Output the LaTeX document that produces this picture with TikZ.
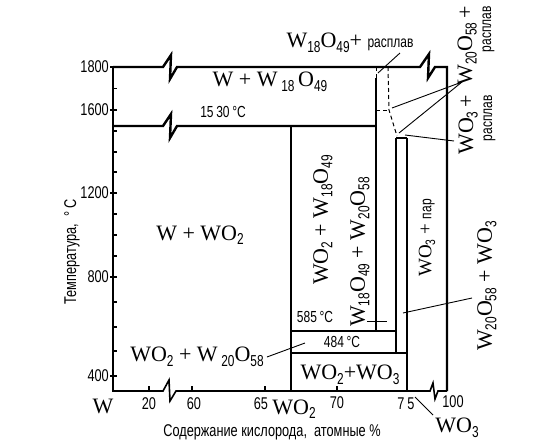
\documentclass[tikz,border=0pt]{standalone}
\usepackage{fontspec}
\usepackage{graphicx}
\setmainfont{Liberation Serif}
\newfontfamily\cnd[FakeStretch=0.75]{Liberation Sans}
\newcommand\sbs[1]{\raisebox{-0.45ex}{\scalebox{0.72}{\cnd #1}}}
\tikzset{
  heavy/.style={line width=2.4pt},
  axisl/.style={line width=1.6pt},
  inner/.style={line width=1.3pt},
  dsh/.style={line width=1pt, dash pattern=on 4pt off 3pt},
  lead/.style={line width=0.9pt},
  frm/.style={font=\fontsize{22}{24}\selectfont, inner sep=0pt},
  frms/.style={font=\fontsize{19}{21}\selectfont, inner sep=0pt},
  sml/.style={font=\cnd\fontsize{16}{18}\selectfont, inner sep=0pt},
  tlab/.style={font=\cnd\fontsize{17}{19}\selectfont, inner sep=0pt},
}
\newcommand\rasp{{\cnd\fontsize{16}{18}\selectfont расплав}}
\begin{document}
\begin{tikzpicture}[x=1pt,y=-1pt]
\useasboundingbox (0,0) rectangle (550,445);
% frame lines
\draw[heavy] (113,67) -- (163,67) -- (171,55) -- (170,79) -- (177,67) -- (420,67) -- (429,54) -- (428,78) -- (435,67) -- (447,67) -- (447,391);
\draw[heavy] (113,126) -- (163,126) -- (171,114) -- (170,138) -- (177,126) -- (376,126);
\draw[axisl] (113,67) -- (113,391) -- (163,391) -- (169,380) -- (170,401) -- (176,391) -- (430,391) -- (433,383) -- (435,399) -- (438,391) -- (447,391);
% y ticks
\foreach \yy in {88.5,131,152,172,214,235,256,302,327,351}
  \draw[inner] (113,\yy) -- (117,\yy);
\foreach \yy in {67,110,193,277,376}
  \draw[inner] (110,\yy) -- (117,\yy);
% x ticks
\foreach \xx in {149,192,265,337}
  \draw[inner] (\xx,391) -- (\xx,386);
% inner phase lines
\draw[inner] (376,78) -- (376,331);
\draw[dsh] (376,67) -- (376,78);
\draw[inner] (291,126) -- (291,391);
\draw[inner] (396,138) -- (396,353);
\draw[inner] (407,138) -- (407,391);
\draw[inner] (396,138) -- (407,138);
\draw[inner] (291,331) -- (396,331);
\draw[inner] (291,353) -- (407,353);
\draw[lead] (367,321) -- (387,321);
\draw[dsh] (388,67) -- (389,110) -- (397,136);
\draw[dsh] (376,110) -- (388,110);
% labels
\node[tlab, anchor=east] (t1800) at (109,67) {1800};
\node[tlab, anchor=east] (t1600) at (109,110) {1600};
\node[tlab, anchor=east] (t1200) at (109,193) {1200};
\node[tlab, anchor=east] (t800) at (109,277) {800};
\node[tlab, anchor=east] (t400) at (109,376) {400};
\node[tlab, rotate=90] (ylab) at (72,252) {Температура, \ °\,C};
\node[frm] (xW) at (103,406) {W};
\node[tlab] (x20) at (149,404) {20};
\node[tlab] (x60) at (194,404) {60};
\node[tlab] (x65) at (261,404) {65};
\node[frm] (xWO2) at (294,409) {WO\sbs{2}};
\node[tlab] (x70) at (337,403) {70};
\node[tlab] (x75) at (406,404) {7\,5};
\node[tlab] (x100) at (453,402) {100};
\node[frm] (xWO3) at (457,428) {WO\sbs{3}};
\node[tlab] (xlab) at (272,432) {Содержание кислорода, \ атомные \%};
\node[frm] (r1) at (270,82) {W + W\,\sbs{18}\,O\sbs{49}};
\node[frm] (r2) at (200,235) {W + WO\sbs{2}};
\node[frm] (r3) at (197,357) {WO\sbs{2} + W\,\sbs{20}O\sbs{58}};
\node[frm] (r4) at (350,375) {WO\sbs{2}+WO\sbs{3}};
\node[frm, rotate=90] (r5) at (323,220) {WO\sbs{2} + W\sbs{18}O\sbs{49}};
\node[frm, rotate=90] (r6) at (360,252) {W\sbs{18}O\sbs{49} + W\sbs{20}O\sbs{58}};
\node[frms, rotate=90] (r7) at (427,238) {WO\sbs{3} + {\cnd\fontsize{16}{18}\selectfont пар}};
\node[frm, rotate=90] (r8) at (487,286) {W\sbs{20}O\sbs{58} + WO\sbs{3}};
\node[frm] (r9) at (350,43) {W\sbs{18}O\sbs{49}+ \rasp};
\node[frm, rotate=90, align=right] (r10) at (476,46) {W\sbs{20}O\sbs{58}\,+\\[-5pt]\rasp};
\node[frm, rotate=90, align=right] (r11) at (477,125) {WO\sbs{3}\,+\\[-5pt]\rasp};
\node[sml] (c1530) at (223,112) {15\,30\,°C};
\node[sml] (c585) at (315,317) {585\,°C};
\node[sml] (c484) at (342,342) {484\,°C};
% leaders
\coordinate (a1) at (400,53);  \coordinate (b1) at (378,73);
\coordinate (a2) at (462,82);  \coordinate (b2) at (392,108);
\coordinate (b3) at (399,133);
\coordinate (a4) at (454,141); \coordinate (b4) at (405,135);
\coordinate (a5) at (472,298); \coordinate (b5) at (403,313);
\coordinate (a6) at (267,357); \coordinate (b6) at (305,343);
\coordinate (a7) at (415,397); \coordinate (b7) at (433,415);
\draw[lead] (a1) -- (b1);
\draw[lead] (a2) -- (b2);
\draw[lead] (a2) -- (b3);
\draw[lead] (a4) -- (b4);
\draw[lead] (a5) -- (b5);
\draw[lead] (a6) -- (b6);
\draw[lead] (a7) -- (b7);
\end{tikzpicture}
\end{document}
